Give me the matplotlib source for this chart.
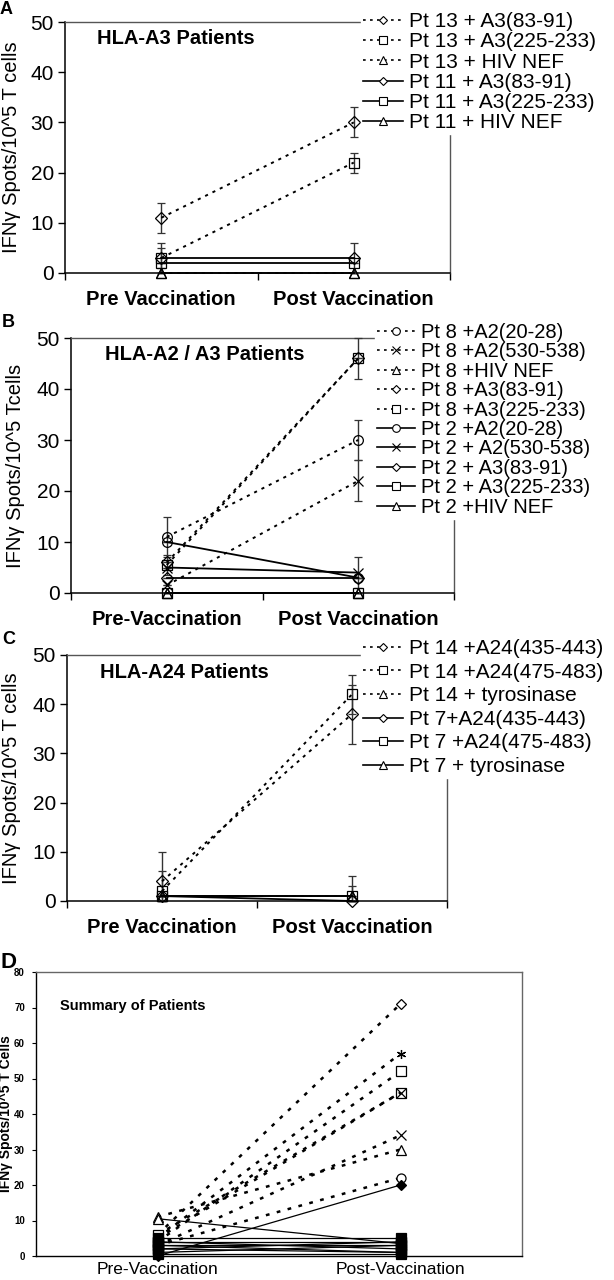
import matplotlib
matplotlib.use("Agg")
import matplotlib.pyplot as plt
from matplotlib.lines import Line2D

plt.rcParams['font.family'] = ['Liberation Sans', 'DejaVu Sans']

categories = ["Pre Vaccination", "Post Vaccination"]
categories_b = ["Pre-Vaccination", "Post Vaccination"]
categories_d = ["Pre-Vaccination", "Post-Vaccination"]

# Panel A: HLA-A3 patients
a_labels = ["Pt 13 + A3(83-91)", "Pt 13 + A3(225-233)", "Pt 13 + HIV NEF",
            "Pt 11 + A3(83-91)", "Pt 11 + A3(225-233)", "Pt 11 + HIV NEF"]
a_pre = [11, 3, 0, 3, 2, 0]
a_post = [30, 22, 0, 3, 2, 0]
a_pre_err = [3, 3, 0, 2, 0, 0]
a_post_err = [3, 2, 0, 3, 0, 0]
a_markers = ["D", "s", "^", "D", "s", "^"]
a_dotted = [True, True, True, False, False, False]

# Panel B: HLA-A2 / A3 patients
b_labels = ["Pt 8 +A2(20-28)", "Pt 8 +A2(530-538)", "Pt 8 +HIV NEF",
            "Pt 8 +A3(83-91)", "Pt 8 +A3(225-233)", "Pt 2 +A2(20-28)",
            "Pt 2 + A2(530-538)", "Pt 2 + A3(83-91)", "Pt 2 + A3(225-233)",
            "Pt 2 +HIV NEF"]
b_pre = [11, 1.5, 0, 6, 5.5, 10, 5, 3, 0, 0]
b_post = [30, 22, 0, 46, 46, 3, 4, 3, 0, 0]
b_pre_err = [4, 0, 0, 0, 2, 0, 0, 0, 0, 0]
b_post_err = [4, 4, 0, 4, 0, 0, 3, 0, 0, 0]
b_markers = ["o", "x", "^", "D", "s", "o", "x", "D", "s", "^"]
b_dotted = [True] * 5 + [False] * 5

# Panel C: HLA-A24 patients
c_labels = ["Pt 14 +A24(435-443)", "Pt 14 +A24(475-483)", "Pt 14 + tyrosinase",
            "Pt 7+A24(435-443)", "Pt 7 +A24(475-483)", "Pt 7 + tyrosinase"]
c_pre = [4, 2, 1, 1, 1, 1]
c_post = [38, 42, 1, 0, 1, 1]
c_pre_err = [6, 4, 0, 0, 0, 0]
c_post_err = [6, 4, 0, 0, 4, 2]
c_markers = ["D", "s", "^", "D", "s", "^"]
c_dotted = [True, True, True, False, False, False]

# Panel D: summary of patients
d_pre = [6, 5, 4, 6, 5, 3, 11, 3, 0, 10.5, 5, 4, 3, 2, 1, 0.5, 3, 4, 2]
d_post = [71, 57, 52, 46, 46, 34, 30, 22, 20, 3.5, 5, 4, 3, 4, 3, 0.5, 1, 2, 1]
d_markers = ["D", (6, 2, 0), "s", "s", "x", "x", "^", "o", "D", "^",
             "s", "s", "s", "s", "s", "s", "s", "s", "s"]
d_dotted = [True] * 8 + [False] * 11
d_filled = [False] * 8 + [True, False] + [True] * 9

fig = plt.figure(figsize=(6.14, 12.8), dpi=100)

FW, FH = 614.0, 1280.0


def axes_px(left, right, top, bottom):
    return fig.add_axes([left / FW, 1 - bottom / FH, (right - left) / FW, (bottom - top) / FH])


def panel(ax, labels, pre, post, pre_err, post_err, markers, dotted, cats,
          ylabel, label_right_px, title, title_xy, leg_xy, labelspacing, legsize):
    handles = []
    for i in range(len(labels)):
        ls = (0, (1.6, 2.6)) if dotted[i] else "-"
        vals = [pre[i], post[i]]
        errs = [pre_err[i], post_err[i]]
        lower = [min(e, v) for e, v in zip(errs, vals)]
        ax.errorbar([0, 1], vals, yerr=[lower, errs],
                    color="black", ecolor="#333333", elinewidth=1.0, capsize=3,
                    linestyle=ls, linewidth=1.4 if dotted[i] else 1.3,
                    marker=markers[i], markersize=7 if markers[i] != "D" else 6,
                    markerfacecolor="none", markeredgecolor="black",
                    markeredgewidth=0.9, clip_on=False, zorder=3)
        handles.append(Line2D([0], [0], color="black", linestyle=ls,
                              linewidth=1.2, marker=markers[i],
                              markersize=5.5 if markers[i] != "D" else 4.5,
                              markerfacecolor="white", markeredgecolor="black",
                              markeredgewidth=0.8))
    ax.set_xlim(-0.5, 1.5)
    ax.set_ylim(0, 50)
    ax.set_yticks([0, 10, 20, 30, 40, 50])
    ax.set_xticks([0, 1])
    ax.set_xticklabels(cats, fontsize=14.5, fontweight="bold")
    ax.set_xticks([-0.5, 0.5, 1.5], minor=True)
    ax.tick_params(axis="x", which="major", length=0, pad=12)
    ax.tick_params(axis="x", which="minor", length=5, direction="out", width=1)
    ax.tick_params(axis="y", labelsize=15, length=5, width=1, pad=3)
    for s in ["left", "bottom"]:
        ax.spines[s].set_color("black")
        ax.spines[s].set_linewidth(1.1)
    for s in ["top", "right"]:
        ax.spines[s].set_color("#555555")
        ax.spines[s].set_linewidth(1.0)
    ax.set_ylabel(ylabel, fontsize=14.5)
    left_px = ax.get_position().x0 * FW
    width_px = ax.get_position().width * FW
    ax.yaxis.set_label_coords((label_right_px - left_px) / width_px, 0.5)
    fig.text(title_xy[0] / FW, 1 - title_xy[1] / FH, title, fontsize=14.5,
             fontweight="bold", ha="left", va="center")
    leg = ax.legend(handles, labels, loc="upper left",
                    bbox_to_anchor=(leg_xy[0] / FW, 1 - leg_xy[1] / FH),
                    bbox_transform=fig.transFigure, fontsize=legsize,
                    frameon=True, facecolor="white", edgecolor="white",
                    framealpha=1.0, fancybox=False, handlelength=1.9,
                    handletextpad=0.3, labelspacing=labelspacing,
                    borderpad=0.1, borderaxespad=0)
    leg.set_zorder(10)


axA = axes_px(65, 450, 22, 273)
panel(axA, a_labels, a_pre, a_post, a_pre_err, a_post_err, a_markers, a_dotted,
      categories, "IFN\u03b3 Spots/10^5 T cells", 21, "HLA-A3 Patients", (97, 39),
      (361, 10), 0.06, 15)

axB = axes_px(71, 454, 338, 593)
panel(axB, b_labels, b_pre, b_post, b_pre_err, b_post_err, b_markers, b_dotted,
      categories_b, "IFN\u03b3 Spots/10^5 Tcells", 25, "HLA-A2 / A3 Patients", (105, 355),
      (375, 321), 0.02, 14.5)

axC = axes_px(67, 447, 655, 901)
panel(axC, c_labels, c_pre, c_post, c_pre_err, c_post_err, c_markers, c_dotted,
      categories, "IFN\u03b3 Spots/10^5 T cells", 21, "HLA-A24 Patients", (100, 673),
      (361, 637), 0.22, 15)

# Panel D
axD = axes_px(36, 522, 972, 1256)
for i in range(len(d_pre)):
    ls = (0, (1.5, 3.0)) if d_dotted[i] else "-"
    axD.plot([0, 1], [d_pre[i], d_post[i]], color="black", linestyle=ls,
             linewidth=1.8 if d_dotted[i] else 0.9,
             marker=d_markers[i],
             markersize=(7 if d_filled[i] else 6.5) if d_markers[i] != "D" else 5.5,
             markerfacecolor="black" if d_filled[i] else "white",
             markeredgecolor="black", markeredgewidth=0.9, clip_on=False, zorder=3)
axD.set_xlim(-0.5, 1.5)
axD.set_ylim(0, 80)
axD.set_yticks(range(0, 81, 10))
axD.tick_params(axis="y", labelsize=7, length=3, width=0.8, pad=5)
for lab in axD.get_yticklabels():
    lab.set_fontweight("bold")
axD.set_xticks([0, 1])
axD.set_xticklabels(categories_d, fontsize=12.5)
axD.tick_params(axis="x", length=0, pad=4)
for s in axD.spines.values():
    s.set_color("#666666")
    s.set_linewidth(1.0)
axD.spines["bottom"].set_color("black")
axD.spines["left"].set_color("black")
axD.set_ylabel("IFN\u03b3 Spots/10^5 T Cells", fontsize=10, fontweight="bold")
axD.yaxis.set_label_coords((13 - 36) / 486, 0.5)
fig.text(60 / FW, 1 - 1006 / FH, "Summary of Patients", fontsize=10.5,
         fontweight="bold", ha="left", va="center")

# Panel letters
fig.text(0 / FW, 1 - 1 / FH, "A", fontsize=13, fontweight="bold", ha="left", va="top")
fig.text(2 / FW, 1 - 314 / FH, "B", fontsize=13, fontweight="bold", ha="left", va="top")
fig.text(2 / FW, 1 - 631 / FH, "C", fontsize=13, fontweight="bold", ha="left", va="top")
fig.text(0 / FW, 1 - 952 / FH, "D", fontsize=16, fontweight="bold", ha="left", va="top")

fig.savefig("out.png", dpi=100)
